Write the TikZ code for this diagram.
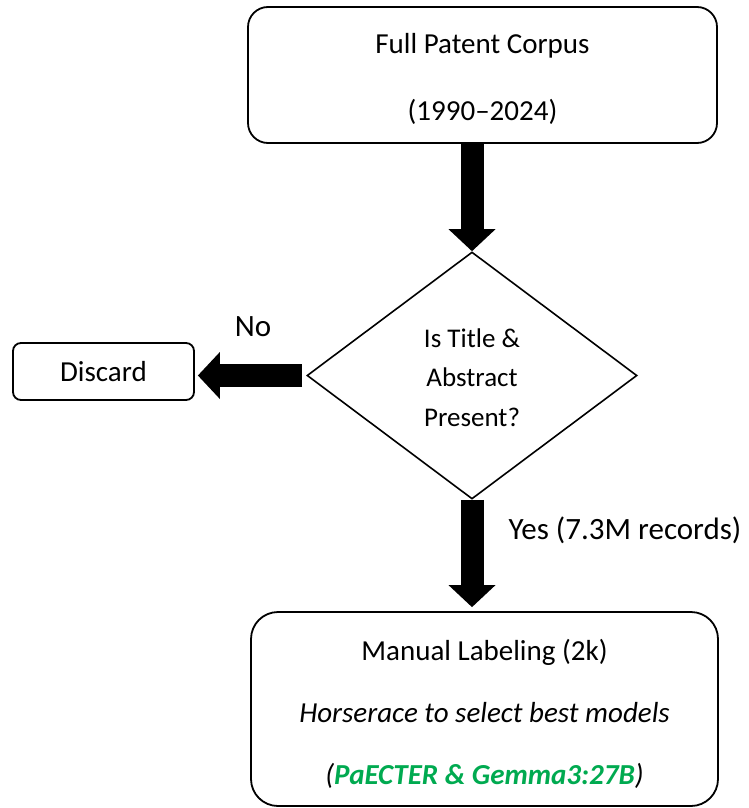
\documentclass[tikz,border=0pt]{standalone}
\usepackage{fontspec}
\setmainfont{Carlito}
\usetikzlibrary{arrows.meta,shapes.geometric}
\definecolor{modelgreen}{RGB}{0,170,80}
\begin{document}
\begin{tikzpicture}[x=1pt,y=-1pt,
  box/.style={draw, line width=1.8pt, rounded corners=20pt, align=center, inner sep=0pt},
  flowarrow/.style={line width=23pt, -{Triangle[width=47pt,length=22pt,line width=0pt]}},
  txt/.style={font=\fontsize{29}{35}\selectfont},
  lbl/.style={font=\fontsize{31}{37}\selectfont}]
\useasboundingbox (0,0) rectangle (748,808);

% process boxes and decision
\node[box, minimum width=469pt, minimum height=136pt, font=\fontsize{29}{67}\selectfont]
  (corpus) at (482.5,75) {\rule{0pt}{28pt}Full Patent Corpus\\(1990--2024)};
\node[diamond, draw, line width=1.6pt, minimum width=330pt, minimum height=247pt,
  inner sep=0pt, align=center, font=\fontsize{27}{39.5}\selectfont]
  (check) at (472,375.5) {\rule{0pt}{23pt}Is Title \&\\Abstract\\Present?};
\node[box, rounded corners=8pt, minimum width=181pt, minimum height=57pt, txt]
  (discard) at (103.5,371.5) {Discard};
\node[box, rounded corners=27pt, minimum width=467pt, minimum height=194pt]
  (labeling) at (484.5,709) {};
\node[align=center, font=\fontsize{29}{62}\selectfont] (labeltext) at (484.5,714)
  {Manual Labeling (2k)\\
   \textit{Horserace to select best models}\\
   \textit{(\textbf{\color{modelgreen}PaECTER \& Gemma3:27B})}};

% branch labels
\node[lbl] (no) at (253,327) {No};
\node[lbl, anchor=west] (yes) at (505,530) {Yes (7.3M records)};

% block arrows
\draw[flowarrow] (corpus.south -| check.north) -- (check.north);
\draw[flowarrow, shorten <=4pt, shorten >=3pt] (check.west) -- (check.west -| discard.east);
\draw[flowarrow, shorten >=4pt] (check.south) -- (check.south |- labeling.north);
\end{tikzpicture}
\end{document}
